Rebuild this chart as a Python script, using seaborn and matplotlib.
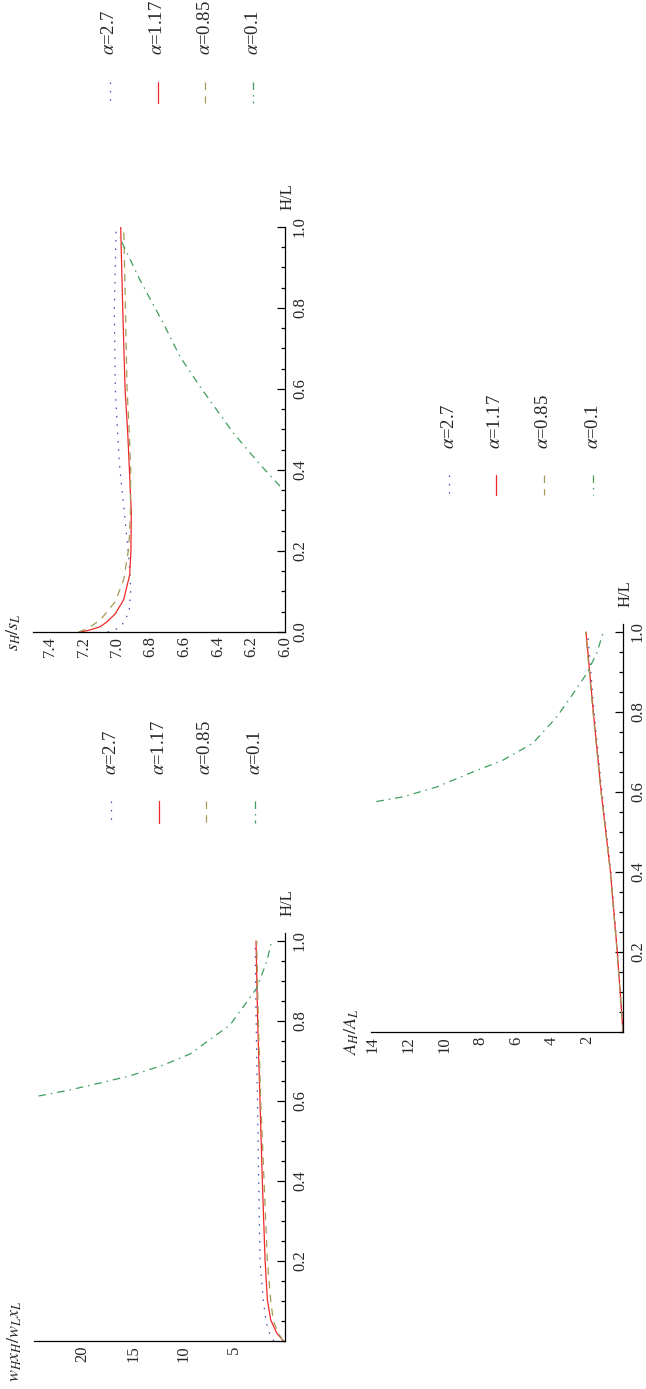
import matplotlib
matplotlib.use("Agg")
import matplotlib.pyplot as plt
import matplotlib.ticker as mticker
from matplotlib.lines import Line2D
import seaborn as sns

# legend entries (same four curves in every panel)
alphas = ["2.7", "1.17", "0.85", "0.1"]

# s_H/s_L panel: H/L values and s_H/s_L values
s_h_27 = [0.0, 0.008, 0.025, 0.054, 0.104, 0.17, 0.252, 0.334, 0.4165, 0.49, 0.6, 0.8, 1.0]
s_v_27 = [7.055, 6.998, 6.955, 6.927, 6.918, 6.927, 6.946, 6.966, 6.986, 6.996, 7.01, 7.016, 7.005]
s_h_117 = [0.0, 0.004, 0.013, 0.025, 0.045, 0.08, 0.14, 0.2, 0.293, 0.4, 0.49, 0.6, 0.8, 1.0]
s_v_117 = [7.22, 7.17, 7.10, 7.06, 7.01, 6.96, 6.925, 6.917, 6.915, 6.926, 6.936, 6.952, 6.966, 6.978]
s_h_085 = [0.0, 0.009, 0.031, 0.075, 0.13, 0.207, 0.293, 0.4, 0.49, 0.6, 0.8, 1.0]
s_v_085 = [7.23, 7.17, 7.097, 7.01, 6.96, 6.93, 6.92, 6.919, 6.927, 6.94, 6.95, 6.96]
s_h_01 = [0.36, 0.4165, 0.49, 0.606, 0.68, 0.762, 0.869, 0.975]
s_v_01 = [6.03, 6.155, 6.305, 6.506, 6.625, 6.724, 6.863, 6.985]

# w_H x_H / w_L x_L panel
w_h_27 = [0.0, 0.02, 0.05, 0.1, 0.2, 0.4, 0.6, 0.8, 1.0]
w_v_27 = [1.1, 1.55, 1.88, 2.14, 2.47, 2.6, 2.72, 2.85, 2.95]
w_h_117 = [0.0, 0.02, 0.0525, 0.1025, 0.2025, 0.4, 0.6, 0.8, 1.0]
w_v_117 = [0.15, 0.82, 1.41, 1.74, 1.97, 2.24, 2.47, 2.70, 2.86]
w_h_085 = [0.0, 0.02, 0.05, 0.1, 0.2, 0.4, 0.6, 0.8, 1.0]
w_v_085 = [0.2, 0.66, 1.15, 1.41, 1.74, 2.07, 2.40, 2.63, 2.80]
w_h_01 = [0.6125, 0.626, 0.646, 0.663, 0.69, 0.7175, 0.757, 0.79, 0.836, 0.882, 0.948, 1.0]
w_v_01 = [24.35, 21.55, 18.1, 15.3, 12.0, 9.38, 7.24, 5.43, 4.11, 2.8, 1.81, 1.31]

# A_H/A_L panel
a_h = [0.0, 0.2, 0.4, 0.6, 0.8, 1.0]
a_v_27 = [0.0, 0.31, 0.68, 1.18, 1.62, 1.98]
a_v_117 = [0.0, 0.32, 0.70, 1.22, 1.66, 2.07]
a_v_085 = [0.0, 0.33, 0.71, 1.23, 1.68, 2.09]
a_h_01 = [0.576, 0.588, 0.613, 0.647, 0.68, 0.722, 0.788, 0.846, 0.896, 0.947, 1.0]
a_v_01 = [13.8, 12.3, 10.4, 8.57, 6.7, 5.04, 3.7, 2.79, 2.03, 1.47, 1.1]

# stili delle curve
colori = ["#4646ae", "#f02828", "#a89858", "#3e9e5e"]
stili = [(0, (1.2, 5.5)), "-", (0, (6.0, 5.0)), (0, (6.0, 4.0, 1.2, 4.0))]

sns.set_style("white")
plt.rcParams["font.family"] = ["Liberation Serif", "DejaVu Serif"]
plt.rcParams["mathtext.fontset"] = "stix"

W, H = 646, 1389
fig = plt.figure(figsize=(W / 100, H / 100), dpi=100)


def crea_assi(left, right, top, bottom):
    # posizione in pixel -> frazione di figura
    return fig.add_axes([left / W, 1 - bottom / H, (right - left) / W, (bottom - top) / H])


def sistema_assi(ax, xmaj, xmin_step, ymaj, xfmt, yfmt, xlim, ylim, etichetta):
    ax.set_facecolor("none")
    for lato in ["top", "left"]:
        ax.spines[lato].set_visible(False)
    for lato in ["bottom", "right"]:
        ax.spines[lato].set_linewidth(0.9)
        ax.spines[lato].set_color("black")
    ax.set_xticks(xmaj)
    ax.set_yticks(ymaj)
    ax.xaxis.set_minor_locator(mticker.MultipleLocator(xmin_step))
    ax.yaxis.set_minor_locator(mticker.MultipleLocator(0.05))
    ax.xaxis.set_major_formatter(mticker.FormatStrFormatter(xfmt))
    ax.yaxis.set_major_formatter(mticker.FormatStrFormatter(yfmt))
    ax.yaxis.tick_right()
    ax.tick_params(which="both", direction="in", color="black", width=0.9)
    ax.tick_params(which="major", length=6)
    ax.tick_params(which="minor", length=3)
    ax.tick_params(axis="x", labelrotation=90, pad=3, labelsize=12)
    ax.tick_params(axis="y", labelrotation=90, pad=5, labelsize=12,
                   right=True, left=False, labelright=True, labelleft=False)
    plt.setp(ax.get_yticklabels(), va="center")
    ax.set_xlim(*xlim)
    ax.set_ylim(*ylim)
    ax.set_xlabel("")
    ax.set_ylabel("")
    # H/L in cima all'asse verticale
    ax.annotate("H/L", xy=(1, 1), xycoords="axes fraction", xytext=(1.5, 12),
                textcoords="offset points", rotation=90, ha="center", va="bottom", fontsize=12)
    # etichetta della grandezza a sinistra dell'asse orizzontale
    ax.annotate(etichetta, xy=(0, 0), xycoords="axes fraction", xytext=(-7, 0),
                textcoords="offset points", rotation=90, ha="right", va="center", fontsize=13)


def disegna_curve(ax, curve):
    for (v, h), c, ls in zip(curve, colori, stili):
        sns.lineplot(x=v, y=h, ax=ax, sort=False, estimator=None,
                     color=c, linestyle=ls, linewidth=0.9)


def legenda(xs, testo_y, linea_top, linea_bottom):
    for x, a, c, ls in zip(xs, alphas, colori, stili):
        fig.text(x / W, 1 - testo_y / H, r"$\alpha$=" + a, rotation=90,
                 ha="center", va="bottom", fontsize=13.5)
        fig.add_artist(Line2D([x / W, x / W], [1 - linea_top / H, 1 - linea_bottom / H],
                              color=c, linestyle=ls, linewidth=0.9))


# pannello s_H/s_L
ax_s = crea_assi(33, 285, 227, 632)
disegna_curve(ax_s, [(s_v_27, s_h_27), (s_v_117, s_h_117), (s_v_085, s_h_085), (s_v_01, s_h_01)])
sistema_assi(ax_s, [6.0, 6.2, 6.4, 6.6, 6.8, 7.0, 7.2, 7.4], 0.05,
             [0.0, 0.2, 0.4, 0.6, 0.8, 1.0], "%.1f", "%.1f",
             (7.5, 6.0), (0.0, 1.0), r"$s_H/s_L$")
legenda([110, 158, 205, 253], 55, 82, 103)

# pannello w_H x_H / w_L x_L
ax_w = crea_assi(34, 285, 933, 1341)
disegna_curve(ax_w, [(w_v_27, w_h_27), (w_v_117, w_h_117), (w_v_085, w_h_085), (w_v_01, w_h_01)])
sistema_assi(ax_w, [5, 10, 15, 20], 1,
             [0.2, 0.4, 0.6, 0.8, 1.0], "%d", "%.1f",
             (24.8, 0), (0.0, 1.02), r"$w_H x_H/w_L x_L$")
legenda([111, 159, 206, 255], 775, 801, 823)

# pannello A_H/A_L
ax_a = crea_assi(371, 623, 624, 1032)
disegna_curve(ax_a, [(a_v_27, a_h), (a_v_117, a_h), (a_v_085, a_h), (a_v_01, a_h_01)])
sistema_assi(ax_a, [2, 4, 6, 8, 10, 12, 14], 0.5,
             [0.2, 0.4, 0.6, 0.8, 1.0], "%d", "%.1f",
             (14.1, 0), (0.0, 1.02), r"$A_H/A_L$")
legenda([449, 496, 544, 593], 449, 475, 495)

fig.savefig("out.png", dpi=100)
